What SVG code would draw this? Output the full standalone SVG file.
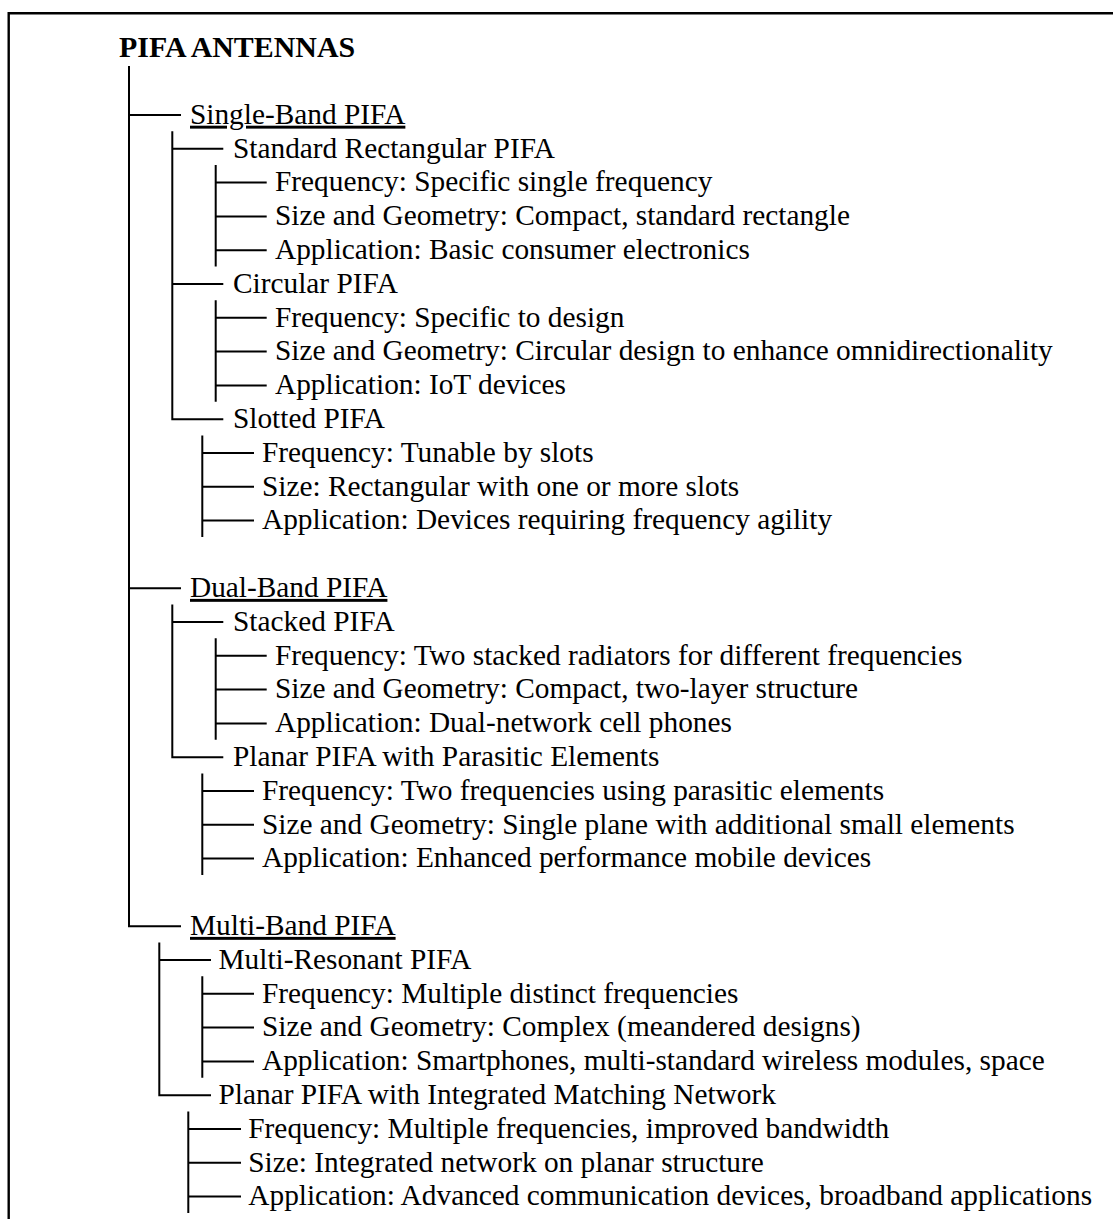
<svg xmlns="http://www.w3.org/2000/svg" width="1113" height="1219" viewBox="0 0 1113 1219">
<style>
text{font-family:"Liberation Serif","Times New Roman",serif;font-size:29.33px;fill:#000}
.title{font-weight:bold;font-size:29.9px}
.band{text-decoration:underline}
.ln{fill:none;stroke:#000;stroke-width:2;stroke-linecap:butt;stroke-linejoin:miter}
.frame{fill:none;stroke:#000;stroke-width:2.4}
</style>
<rect width="1113" height="1219" fill="#fff"/>
<path class="frame" d="M8.7 1219 V13.2 H1113"/>
<g id="connectors" class="ln">
<path d="M129 66 V926.2 H181 M129 115 H181 M129 588.2 H181"/>
<path d="M172.3 131.3 V419.2 H223.3 M172.3 148.8 H223.3 M172.3 284 H223.3"/>
<path d="M215.7 165.1 V266.5 M215.7 182.6 H266.7 M215.7 216.4 H266.7 M215.7 250.2 H266.7"/>
<path d="M215.7 300.3 V401.7 M215.7 317.8 H266.7 M215.7 351.6 H266.7 M215.7 385.4 H266.7"/>
<path d="M202.3 435.5 V536.9 M202.3 453 H254 M202.3 486.8 H254 M202.3 520.6 H254"/>
<path d="M172.3 604.5 V757.2 H223.3 M172.3 622 H223.3"/>
<path d="M215.7 638.3 V739.7 M215.7 655.8 H266.7 M215.7 689.6 H266.7 M215.7 723.4 H266.7"/>
<path d="M202.3 773.5 V874.9 M202.3 791 H254 M202.3 824.8 H254 M202.3 858.6 H254"/>
<path d="M159.3 942.5 V1095.2 H211 M159.3 960 H211"/>
<path d="M202.3 976.3 V1077.7 M202.3 993.8 H254 M202.3 1027.6 H254 M202.3 1061.4 H254"/>
<path d="M188.3 1111.5 V1212.9 M188.3 1129 H241 M188.3 1162.8 H241 M188.3 1196.6 H241"/>
</g>
<g id="root"><text class="title" x="119" y="56.6">PIFA ANTENNAS</text></g>
<g id="single-band"><text class="band" x="190" y="123.7">Single-Band PIFA</text></g>
<g id="standard-rect">
<text x="233" y="157.5">Standard Rectangular PIFA</text>
<text x="275" y="191.3">Frequency: Specific single frequency</text>
<text x="275" y="225.1">Size and Geometry: Compact, standard rectangle</text>
<text x="275" y="258.9">Application: Basic consumer electronics</text>
</g>
<g id="circular">
<text x="233" y="292.7">Circular PIFA</text>
<text x="275" y="326.5">Frequency: Specific to design</text>
<text x="275" y="360.3">Size and Geometry: Circular design to enhance omnidirectionality</text>
<text x="275" y="394.1">Application: IoT devices</text>
</g>
<g id="slotted">
<text x="233" y="427.9">Slotted PIFA</text>
<text x="262" y="461.7">Frequency: Tunable by slots</text>
<text x="262" y="495.5">Size: Rectangular with one or more slots</text>
<text x="262" y="529.3">Application: Devices requiring frequency agility</text>
</g>
<g id="dual-band"><text class="band" x="190" y="596.9">Dual-Band PIFA</text></g>
<g id="stacked">
<text x="233" y="630.7">Stacked PIFA</text>
<text x="275" y="664.5">Frequency: Two stacked radiators for different frequencies</text>
<text x="275" y="698.3">Size and Geometry: Compact, two-layer structure</text>
<text x="275" y="732.1">Application: Dual-network cell phones</text>
</g>
<g id="planar-parasitic">
<text x="233" y="765.9">Planar PIFA with Parasitic Elements</text>
<text x="262" y="799.7">Frequency: Two frequencies using parasitic elements</text>
<text x="262" y="833.5">Size and Geometry: Single plane with additional small elements</text>
<text x="262" y="867.3">Application: Enhanced performance mobile devices</text>
</g>
<g id="multi-band"><text class="band" x="190" y="934.9">Multi-Band PIFA</text></g>
<g id="multi-resonant">
<text x="218.5" y="968.7">Multi-Resonant PIFA</text>
<text x="262" y="1002.5">Frequency: Multiple distinct frequencies</text>
<text x="262" y="1036.3">Size and Geometry: Complex (meandered designs)</text>
<text x="262" y="1070.1">Application: Smartphones, multi-standard wireless modules, space</text>
</g>
<g id="planar-integrated">
<text x="218.5" y="1103.9">Planar PIFA with Integrated Matching Network</text>
<text x="248.3" y="1137.7">Frequency: Multiple frequencies, improved bandwidth</text>
<text x="248.3" y="1171.5">Size: Integrated network on planar structure</text>
<text x="248.3" y="1205.3">Application: Advanced communication devices, broadband applications</text>
</g>
</svg>
